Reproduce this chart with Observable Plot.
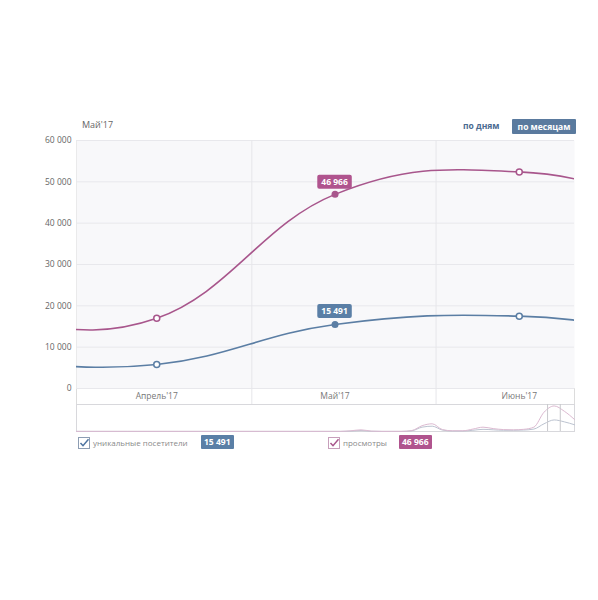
<!DOCTYPE html>
<html><head><meta charset="utf-8">
<script src="https://cdn.jsdelivr.net/npm/d3@7"></script>
<script src="https://cdn.jsdelivr.net/npm/@observablehq/plot@0.6"></script>
<style>
body{margin:0;background:#fff;font-family:"Open Sans",sans-serif;}
#wrap{position:relative;width:598px;height:600px;overflow:hidden;background:#fff;}
.abs{position:absolute;}
#title{left:82px;top:118px;font-size:9px;color:#666;}
#days{left:463px;top:120px;font-size:8.5px;font-weight:bold;color:#4a6a90;}
#months{left:512px;top:119px;width:64px;height:15px;line-height:15px;text-align:center;background:#5a7a9e;color:#fff;font-size:8.5px;font-weight:bold;border-radius:1px;}
#band{left:76px;top:388px;width:497px;height:42px;border-left:1px solid #dcdcdc;border-right:1px solid #dcdcdc;box-sizing:content-box;}
#leftline{left:76px;top:140px;width:0;height:248px;border-left:1px solid #dcdcdc;}
.leg{font-size:8px;color:#8a8a8a;top:437px;line-height:12px;}
.badge{top:435px;height:14px;line-height:14px;padding:0 3px;color:#fff;font-weight:bold;font-size:8.5px;border-radius:1px;}
.cb{top:437px;width:12px;height:12px;}
.cb svg{display:block;}
</style></head><body><div id="wrap">
<div id="title" class="abs">Май'17</div>
<div id="days" class="abs">по дням</div>
<div id="months" class="abs">по месяцам</div>
<div id="band" class="abs"></div>
<div id="leftline" class="abs"></div>
</div>
<script>
// ---- data ----
const months   = ["2017-02-01","2017-03-01","2017-04-01","2017-05-01","2017-06-01","2017-07-01","2017-08-01"];
const views    = [17000, 16500, 17000, 46966, 52400, 43000, 36000];
const visitors = [6500, 6500, 5800, 15491, 17500, 12800, 11000];
const markerMonths = ["2017-04-01","2017-05-01","2017-06-01"];
const activeMonth = "2017-05-01";
const tickMonths = ["2017-04-01","2017-05-01","2017-06-01"];
const tickLabels = ["Апрель'17","Май'17","Июнь'17"];
const gridDays = ["2017-04-17","2017-05-18"];
const yTicks = [0, 10000, 20000, 30000, 40000, 50000, 60000];
const xRange = ["2017-03-18T12:00:00Z","2017-06-10T07:00:00Z"];
const seriesNames = ["уникальные посетители","просмотры"];
// navigator (overview) series
const navViews    = [300,300,300,300,300,300,300,300,300,300,300,300,300,300,300,300,300,300,300,300,300,300,300,300,300,300,300,
                     1500,3500,800,300,300,300,2000,12000,16000,4000,1500,1500,5000,9000,6000,4000,3500,4500,9000,40000,53000,42000,25000];
const navVisitors = [200,200,200,200,200,200,200,200,200,200,200,200,200,200,200,200,200,200,200,200,200,200,200,200,200,200,200,
                     800,2000,500,200,200,200,1500,9000,11000,3000,1000,1000,2500,4500,3500,2500,2500,3000,5000,16000,24000,20000,14000];
const navWindow = [46.35, 47.6];

const VIEW = "#a8568c", VIS = "#5b7ea4";
const VIEW_BADGE = "#b0548e", VIS_BADGE = "#5a7fa6";

const data = months.map((m, i) => ({date: new Date(m), views: views[i], visitors: visitors[i]}));
const iso = d => d.date.toISOString().slice(0,10);
const markers = data.filter(d => markerMonths.includes(iso(d)));
const open = markers.filter(d => iso(d) !== activeMonth);
const active = markers.filter(d => iso(d) === activeMonth);
const tickDates = tickMonths.map(d => new Date(d));
const gridDates = gridDays.map(d => new Date(d));
const fmt = d => d3.format(",")(d).replace(/,/g, " ");
const labelOf = d => tickLabels[tickDates.findIndex(t => +t === +d)];

const badges = [
  {row: active[0], key: "views", dy: -12, color: VIEW_BADGE},
  {row: active[0], key: "visitors", dy: -13, color: VIS_BADGE}
];

const plot = Plot.plot({
  width: 598, height: 430, marginTop: 140, marginBottom: 42, marginLeft: 76, marginRight: 24,
  style: {fontFamily: "'Open Sans', sans-serif", fontSize: "8.5px", color: "#666", background: "transparent", overflow: "visible"},
  x: {type: "utc", domain: xRange.map(d => new Date(d))},
  y: {domain: [0, 60000]},
  marks: [
    Plot.frame({fill: "#f8f8fa", stroke: null}),
    Plot.ruleY(yTicks, {stroke: "#e8e8ec"}),
    Plot.ruleX(gridDates, {stroke: "#e6e6ea"}),
    Plot.axisY({ticks: yTicks, tickSize: 0, tickPadding: 5, tickFormat: fmt, label: null}),
    Plot.axisX({ticks: gridDates, tickSize: 16, stroke: "#e6e6ea", tickFormat: () => "", label: null}),
    Plot.axisX({ticks: tickDates, tickSize: 0, tickPadding: 4, tickFormat: labelOf, label: null, fill: "#777"}),
    Plot.line(data, {x: "date", y: "views", curve: "cardinal", tension: -0.2, stroke: VIEW, strokeWidth: 1.6, clip: true}),
    Plot.line(data, {x: "date", y: "visitors", curve: "cardinal", tension: -0.2, stroke: VIS, strokeWidth: 1.6, clip: true}),
    Plot.dot(open, {x: "date", y: "views", r: 3, fill: "white", stroke: VIEW, strokeWidth: 1.5}),
    Plot.dot(open, {x: "date", y: "visitors", r: 3, fill: "white", stroke: VIS, strokeWidth: 1.5}),
    Plot.dot(active, {x: "date", y: "views", r: 3.5, fill: VIEW}),
    Plot.dot(active, {x: "date", y: "visitors", r: 3.5, fill: VIS})
  ]
});
plot.style.position = "absolute"; plot.style.left = "0px"; plot.style.top = "0px";
const wrap = document.getElementById("wrap");
wrap.appendChild(plot);

// badges above the active points, positioned through the plot's own scales
const xs = plot.scale("x"), ys = plot.scale("y");
const ctx = document.createElement("canvas").getContext("2d");
ctx.font = "bold 8.5px 'Open Sans'";
const NS = "http://www.w3.org/2000/svg";
for (const b of badges) {
  const txt = fmt(b.row[b.key]);
  const cx = xs.apply(b.row.date), cy = ys.apply(b.row[b.key]) + b.dy;
  const w = ctx.measureText(txt).width + 8;
  const r = document.createElementNS(NS, "rect");
  r.setAttribute("x", cx - w / 2); r.setAttribute("y", cy - 7);
  r.setAttribute("width", w); r.setAttribute("height", 14);
  r.setAttribute("rx", 2); r.setAttribute("fill", b.color);
  plot.appendChild(r);
  const t = document.createElementNS(NS, "text");
  t.setAttribute("x", cx); t.setAttribute("y", cy); t.setAttribute("dy", "0.35em");
  t.setAttribute("text-anchor", "middle"); t.setAttribute("fill", "#fff");
  t.setAttribute("font-weight", "bold"); t.setAttribute("font-size", "8.5px");
  t.textContent = txt;
  plot.appendChild(t);
}

// navigator
const navData = navViews.map((v, i) => ({i, views: v, visitors: navVisitors[i]}));
const nav = Plot.plot({
  width: 598, height: 27, marginTop: 0, marginBottom: 0, marginLeft: 76, marginRight: 24,
  style: {background: "transparent", overflow: "visible"},
  x: {domain: [0, navViews.length - 1], axis: null},
  y: {domain: [0, 56000], axis: null},
  marks: [
    Plot.frame({stroke: "#d8d8dc"}),
    Plot.line(navData, {x: "i", y: "visitors", curve: "monotone-x", stroke: "#bcc3d0", strokeWidth: 1}),
    Plot.line(navData, {x: "i", y: "views", curve: "monotone-x", stroke: "#dcbad1", strokeWidth: 1}),
    Plot.ruleX(navWindow, {stroke: "#c8c8cc"})
  ]
});
nav.style.position = "absolute"; nav.style.left = "0px"; nav.style.top = "404px";
wrap.appendChild(nav);

// legend
function checkbox(left, border, check) {
  const d = document.createElement("div");
  d.className = "abs cb"; d.style.left = left + "px";
  d.innerHTML = `<svg width="12" height="12"><rect x="0.5" y="0.5" width="11" height="11" fill="#fff" stroke="${border}"/><path d="M2.5 6 L5 8.7 L10.5 2.2" fill="none" stroke="${check}" stroke-width="1.5"/></svg>`;
  wrap.appendChild(d);
}
function legText(left, txt) {
  const d = document.createElement("div"); d.className = "abs leg"; d.style.left = left + "px"; d.textContent = txt; wrap.appendChild(d);
}
function legBadge(left, txt, color) {
  const d = document.createElement("div"); d.className = "abs badge"; d.style.left = left + "px"; d.style.background = color; d.textContent = txt; wrap.appendChild(d);
}
checkbox(78, "#8d9db3", "#4d73a0");
legText(93, seriesNames[0]);
legBadge(201, fmt(active[0].visitors), VIS_BADGE);
checkbox(328, "#c79fbb", VIEW);
legText(343, seriesNames[1]);
legBadge(399, fmt(active[0].views), VIEW_BADGE);
</script></body></html>
